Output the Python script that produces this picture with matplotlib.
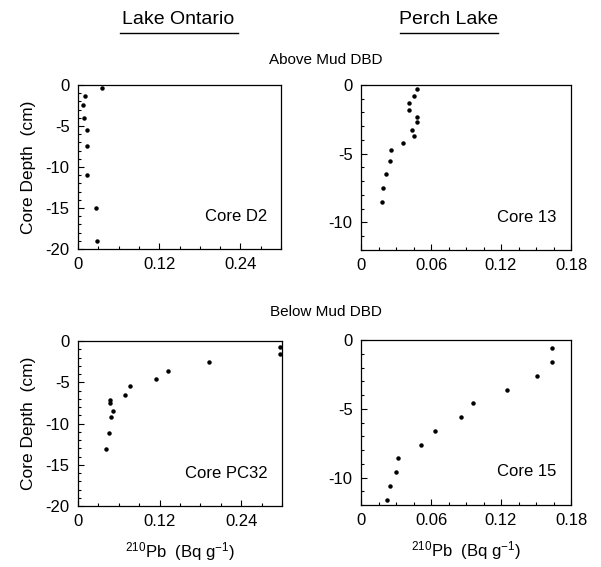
import matplotlib
matplotlib.use("Agg")
import matplotlib.pyplot as plt
from matplotlib.lines import Line2D
from matplotlib.ticker import MultipleLocator

plt.rcParams['font.family'] = ['Liberation Sans', 'DejaVu Sans']
plt.rcParams['mathtext.fontset'] = 'custom'
plt.rcParams['mathtext.rm'] = 'Liberation Sans'
plt.rcParams['mathtext.it'] = 'Liberation Sans:italic'

# Lake Ontario, above mud DBD (Core D2)
d2_pb = [0.036, 0.010, 0.008, 0.009, 0.014, 0.013, 0.013, 0.026, 0.028]
d2_depth = [-0.4, -1.4, -2.4, -4.0, -5.5, -7.5, -11.0, -15.0, -19.0]

# Perch Lake, above mud DBD (Core 13)
c13_pb = [0.048, 0.045, 0.041, 0.041, 0.048, 0.048, 0.044, 0.045,
          0.036, 0.026, 0.025, 0.021, 0.019, 0.018]
c13_depth = [-0.3, -0.8, -1.3, -1.8, -2.3, -2.7, -3.3, -3.7,
             -4.2, -4.7, -5.5, -6.5, -7.5, -8.5]

# Lake Ontario, below mud DBD (Core PC32)
pc32_pb = [0.297, 0.297, 0.192, 0.132, 0.114, 0.077, 0.069, 0.047,
           0.047, 0.052, 0.048, 0.046, 0.041]
pc32_depth = [-0.7, -1.6, -2.6, -3.6, -4.6, -5.5, -6.6, -7.1,
              -7.5, -8.5, -9.2, -11.1, -13.1]

# Perch Lake, below mud DBD (Core 15)
c15_pb = [0.164, 0.164, 0.151, 0.125, 0.096, 0.086, 0.063, 0.051,
          0.032, 0.030, 0.025, 0.022]
c15_depth = [-0.6, -1.6, -2.6, -3.6, -4.6, -5.6, -6.6, -7.6,
             -8.6, -9.6, -10.6, -11.6]

ontario_xticks = [0, 0.12, 0.24]
ontario_xlabels = ['0', '0.12', '0.24']
perch_xticks = [0, 0.06, 0.12, 0.18]
perch_xlabels = ['0', '0.06', '0.12', '0.18']

W, H = 601, 567
fig = plt.figure(figsize=(W / 100, H / 100), dpi=100)


def px_axes(left, top, right, bottom):
    """ピクセル座標から軸を作成"""
    return fig.add_axes([left / W, 1 - bottom / H, (right - left) / W, (bottom - top) / H])


def style_axes(ax, xlim, ylim, xticks, xlabels, yticks, xminor, show_ylabel):
    ax.set_xlim(*xlim)
    ax.set_ylim(*ylim)
    ax.set_xticks(xticks)
    ax.set_xticklabels(xlabels)
    ax.set_yticks(yticks)
    ax.set_yticklabels([str(int(v)) for v in yticks])
    ax.xaxis.set_minor_locator(MultipleLocator(xminor))
    ax.yaxis.set_minor_locator(MultipleLocator(1))
    ax.tick_params(which='both', direction='in', labelsize=12, width=0.8)
    ax.tick_params(which='major', length=4, pad=6)
    ax.tick_params(which='minor', length=2)
    for sp in ax.spines.values():
        sp.set_linewidth(0.9)
    if show_ylabel:
        ax.set_ylabel('Core Depth  (cm)', fontsize=12.5, labelpad=7)


def add_core(ax, x, y, name):
    ax.plot(x, y, 'o', color='black', markersize=2.2, linestyle='none')
    ax.text(0.93, 0.2, name, transform=ax.transAxes, ha='right', va='center', fontsize=12)


ax1 = px_axes(78, 85, 281, 249)
style_axes(ax1, (0, 0.30), (-20, 0), ontario_xticks, ontario_xlabels,
           [0, -5, -10, -15, -20], 0.03, True)
add_core(ax1, d2_pb, d2_depth, 'Core D2')

ax2 = px_axes(361, 85, 571, 250)
style_axes(ax2, (0, 0.18), (-12, 0), perch_xticks, perch_xlabels,
           [0, -5, -10], 0.015, False)
add_core(ax2, c13_pb, c13_depth, 'Core 13')

ax3 = px_axes(78, 341, 282, 506)
style_axes(ax3, (0, 0.30), (-20, 0), ontario_xticks, ontario_xlabels,
           [0, -5, -10, -15, -20], 0.03, True)
add_core(ax3, pc32_pb, pc32_depth, 'Core PC32')
ax3.set_xlabel(r'$^{210}$Pb  (Bq g$^{-1}$)', fontsize=12, labelpad=8)

ax4 = px_axes(361, 340, 571, 505)
style_axes(ax4, (0, 0.18), (-12, 0), perch_xticks, perch_xlabels,
           [0, -5, -10], 0.015, False)
add_core(ax4, c15_pb, c15_depth, 'Core 15')
ax4.set_xlabel(r'$^{210}$Pb  (Bq g$^{-1}$)', fontsize=12, labelpad=8)

# 見出し
fig.text(178 / W, 1 - 19 / H, 'Lake Ontario', ha='center', va='center', fontsize=14)
fig.text(449 / W, 1 - 19 / H, 'Perch Lake', ha='center', va='center', fontsize=14)
fig.add_artist(Line2D([120 / W, 238 / W], [1 - 33 / H, 1 - 33 / H], color='black', lw=1))
fig.add_artist(Line2D([400 / W, 498 / W], [1 - 33 / H, 1 - 33 / H], color='black', lw=1))
fig.text(326 / W, 1 - 60 / H, 'Above Mud DBD', ha='center', va='center', fontsize=11)
fig.text(326 / W, 1 - 312 / H, 'Below Mud DBD', ha='center', va='center', fontsize=11)

fig.savefig('out.png', dpi=100)
